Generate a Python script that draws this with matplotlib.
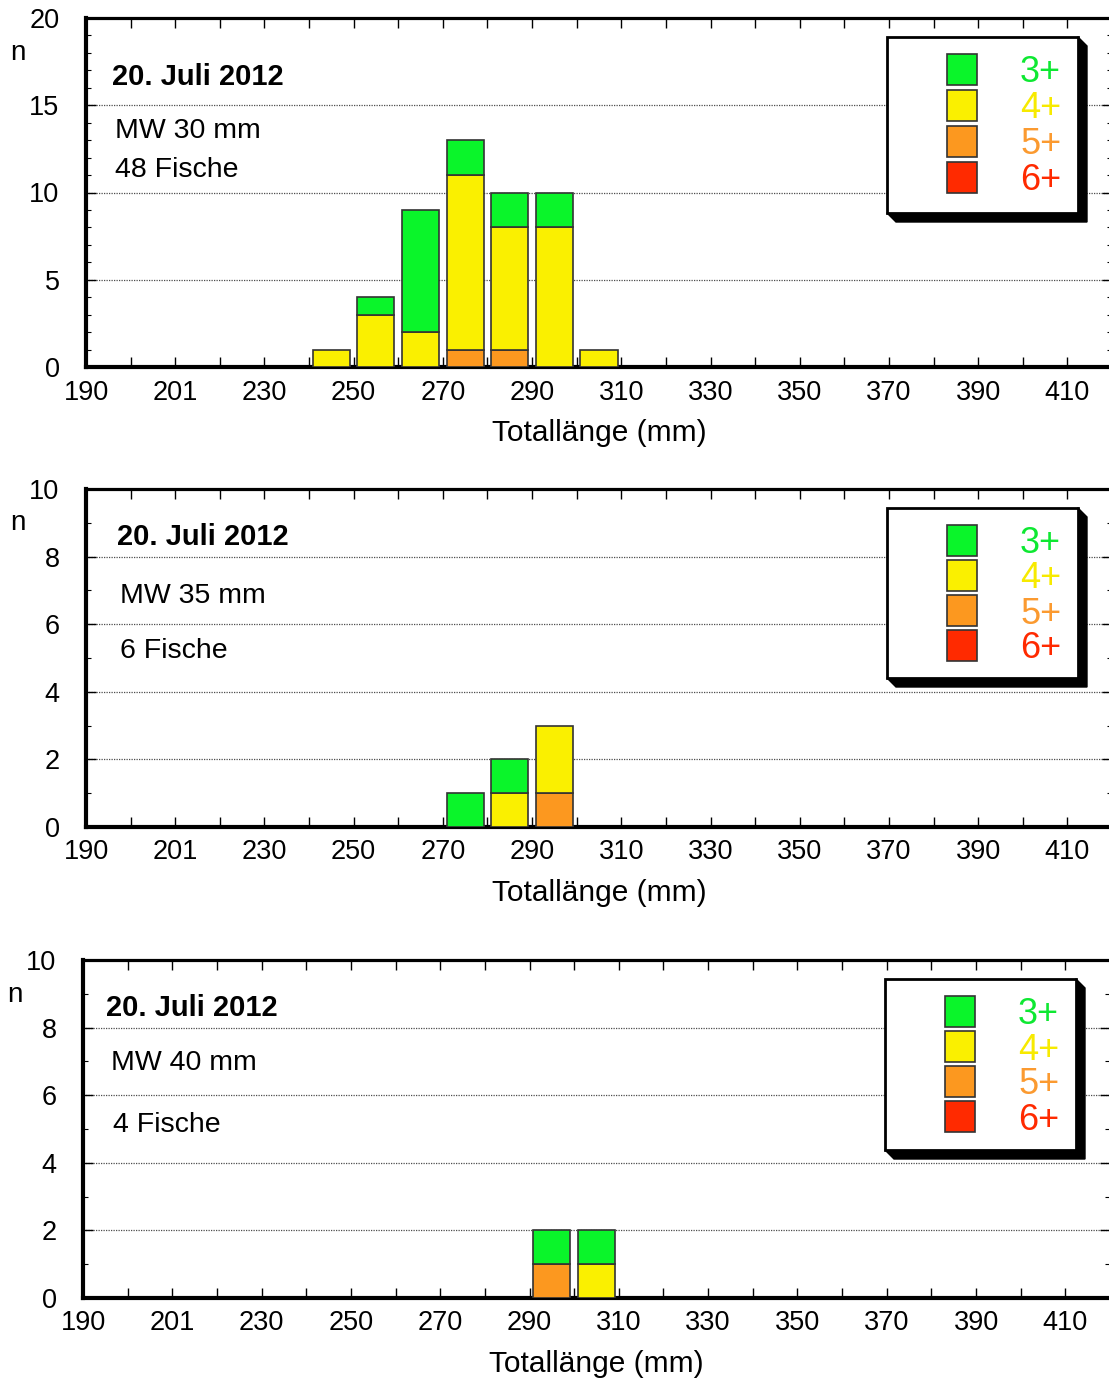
import numpy as np
import matplotlib
matplotlib.use("Agg")
import matplotlib.pyplot as plt
from matplotlib.patches import Polygon, Rectangle

plt.rcParams['font.family'] = ['Liberation Sans', 'DejaVu Sans']

# length classes (lower bin edge, mm)
lengths = np.array([240, 250, 260, 270, 280, 290, 300])

# counts per age class, MW 30 mm
mw30_3 = [0, 1, 7, 2, 2, 2, 0]
mw30_4 = [1, 3, 2, 10, 7, 8, 1]
mw30_5 = [0, 0, 0, 1, 1, 0, 0]
mw30_6 = [0, 0, 0, 0, 0, 0, 0]

# MW 35 mm
mw35_3 = [0, 0, 0, 1, 1, 0, 0]
mw35_4 = [0, 0, 0, 0, 1, 2, 0]
mw35_5 = [0, 0, 0, 0, 0, 1, 0]
mw35_6 = [0, 0, 0, 0, 0, 0, 0]

# MW 40 mm
mw40_3 = [0, 0, 0, 0, 0, 1, 1]
mw40_4 = [0, 0, 0, 0, 0, 0, 1]
mw40_5 = [0, 0, 0, 0, 0, 1, 0]
mw40_6 = [0, 0, 0, 0, 0, 0, 0]

age_labels = ['3+', '4+', '5+', '6+']
age_colors = ['#0af52a', '#faf000', '#fc981f', '#ff2a00']
text_colors = ['#0ee832', '#f7ea00', '#fb9a30', '#ff2a00']

xtick_pos = [190, 210, 230, 250, 270, 290, 310, 330, 350, 370, 390, 410]
xtick_labels = ['190', '201', '230', '250', '270', '290', '310', '330', '350', '370', '390', '410']

date_text = '20. Juli 2012'
mesh_text = ['MW 30 mm', 'MW 35 mm', 'MW 40 mm']
fish_text = ['48 Fische', '6 Fische', '4 Fische']
ymax = [20, 10, 10]
ymajor = [5, 2, 2]

counts = [
    [mw30_3, mw30_4, mw30_5, mw30_6],
    [mw35_3, mw35_4, mw35_5, mw35_6],
    [mw40_3, mw40_4, mw40_5, mw40_6],
]

W, H = 1109, 1378
fig = plt.figure(figsize=(W / 100, H / 100), dpi=100)


def fx(x):
    return x / W


def fy(y):
    return 1 - y / H


# axes boxes in pixels: left, top, right, bottom
boxes = [(86, 18, 1112, 367), (86, 489, 1112, 827), (83, 960, 1110, 1298)]
# legend frames in pixels
leg_boxes = [(887, 37, 1078, 213), (887, 508, 1078, 678), (885, 979, 1076, 1150)]
leg_pitch = [36, 35, 35]
# text anchors (left x, center y) in pixels
date_pos = [(112, 77), (117, 537), (106, 1008)]
mesh_pos = [(115, 131), (120, 596), (111, 1063)]
fish_pos = [(115, 170), (120, 651), (113, 1125)]
n_pos = [(18, 53), (18, 523), (15, 995)]

for k in range(3):
    l, t, r, b = boxes[k]
    ax = fig.add_axes([fx(l), fy(b), (r - l) / W, (b - t) / H])

    # stacked bars: 6+ at the bottom, 3+ on top
    bottom = np.zeros(len(lengths))
    for i in [3, 2, 1, 0]:
        h = np.array(counts[k][i], dtype=float)
        m = h > 0
        if m.any():
            ax.bar(lengths[m] + 5, h[m], width=8.3, bottom=bottom[m],
                   color=age_colors[i], edgecolor='#333333', linewidth=1.2,
                   zorder=3)
        bottom += h

    ax.set_xlim(190, 420)
    ax.set_ylim(0, ymax[k])
    ax.set_xticks(xtick_pos)
    ax.set_xticklabels(xtick_labels)
    ax.set_xticks(np.arange(200, 420, 20), minor=True)
    ax.set_yticks(np.arange(0, ymax[k] + 1, ymajor[k]))
    ax.set_yticks(np.arange(0, ymax[k] + 1, 1), minor=True)

    ax.tick_params(axis='x', which='both', direction='in', top=True,
                   length=7, width=1, labelsize=19.5, pad=9)
    ax.tick_params(axis='y', which='major', direction='in', right=True,
                   length=7, width=1, labelsize=19.5, pad=19)
    ax.tick_params(axis='y', which='minor', direction='in', right=True,
                   length=3.5, width=0.8)

    ax.yaxis.grid(True, which='major', linestyle=(0, (1, 1)),
                  color='0.3', linewidth=0.9)
    ax.set_axisbelow(True)
    for side in ['left', 'bottom', 'right']:
        ax.spines[side].set_linewidth(3)
    ax.spines['top'].set_linewidth(2.3)

    ax.set_xlabel('Totallänge (mm)', fontsize=21.5, labelpad=10)

    fig.text(fx(n_pos[k][0]), fy(n_pos[k][1]), 'n', fontsize=20,
             ha='center', va='center')
    fig.text(fx(date_pos[k][0]), fy(date_pos[k][1]), date_text, fontsize=21,
             fontweight='bold', ha='left', va='center')
    fig.text(fx(mesh_pos[k][0]), fy(mesh_pos[k][1]), mesh_text[k],
             fontsize=20.5, ha='left', va='center')
    fig.text(fx(fish_pos[k][0]), fy(fish_pos[k][1]), fish_text[k],
             fontsize=20.5, ha='left', va='center')

    # legend with a solid drop shadow
    L, T, R, B = leg_boxes[k]
    s = 9
    shadow = Polygon([(fx(R), fy(T)), (fx(R + s), fy(T + s)),
                      (fx(R + s), fy(B + s)), (fx(L + s), fy(B + s)),
                      (fx(L), fy(B))],
                     closed=True, facecolor='black', edgecolor='black',
                     transform=fig.transFigure, zorder=5)
    frame = Rectangle((fx(L), fy(B)), (R - L) / W, (B - T) / H,
                      facecolor='white', edgecolor='black', linewidth=2,
                      transform=fig.transFigure, zorder=6)
    fig.add_artist(shadow)
    fig.add_artist(frame)
    for i in range(4):
        sq_top = T + 17 + i * leg_pitch[k]
        sq = Rectangle((fx(L + 60), fy(sq_top + 31)), 30 / W, 31 / H,
                       facecolor=age_colors[i], edgecolor='#333333',
                       linewidth=1.2, transform=fig.transFigure, zorder=7)
        fig.add_artist(sq)
        fig.text(fx(L + 133), fy(sq_top + 19), age_labels[i], fontsize=26,
                 color=text_colors[i], ha='left', va='center', zorder=7)

fig.savefig('out.png', dpi=100)
